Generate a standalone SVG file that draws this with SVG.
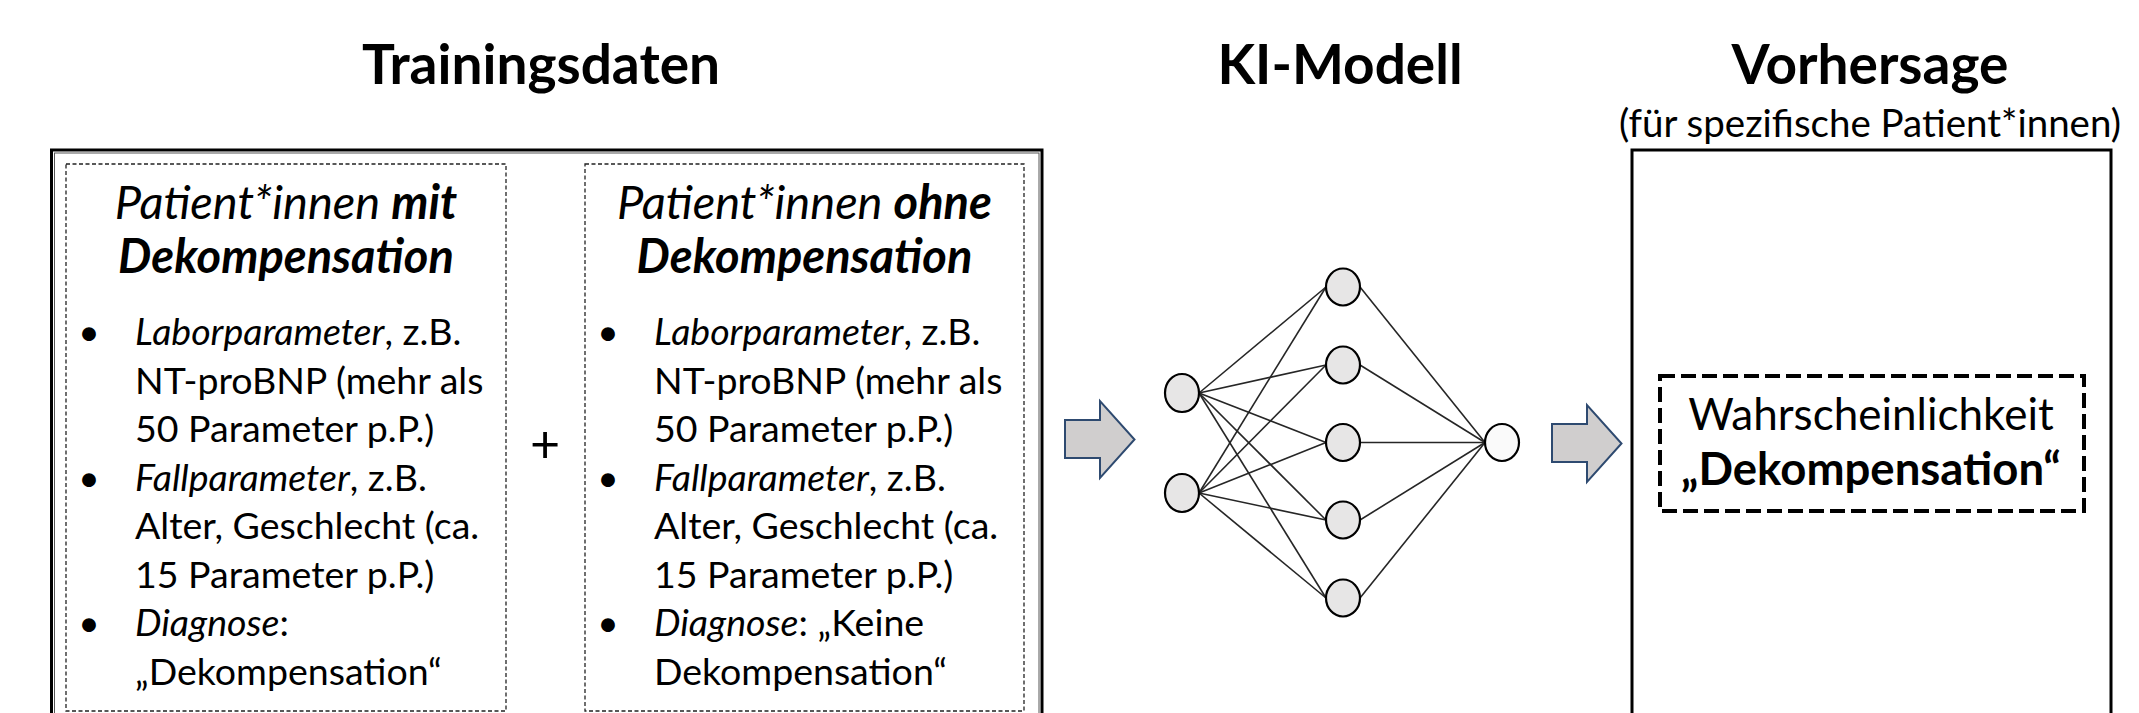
<svg xmlns="http://www.w3.org/2000/svg" width="2139" height="713" viewBox="0 0 2139 713">
  <style>
    text { font-family: Lato, Carlito, "Open Sans", sans-serif; fill: #000; }
    .title { font-size: 55px; font-weight: bold; text-anchor: middle; }
    .sub { font-size: 38.5px; text-anchor: middle; }
    .head { font-size: 47px; font-style: italic; text-anchor: middle; }
    .result { font-size: 44px; text-anchor: middle; }
    .body { font-size: 37.5px; }
    .bul { font-size: 37px; text-anchor: middle; }
    .it { font-style: italic; }
    .bd { font-weight: bold; }
    .dash { fill: none; stroke: #222; stroke-width: 1.3; stroke-dasharray: 4 2.5; }
    .frame { fill: none; stroke: #000; stroke-width: 3; }
    .arrow { fill: #D0CECE; stroke: #2E4A70; stroke-width: 2; stroke-linejoin: miter; }
    .neuron { fill: #E7E6E6; stroke: #000; stroke-width: 2.2; }
    .edge { stroke: #262626; stroke-width: 1.6; }
  </style>

  <!-- column headings -->
  <text class="title" x="541" y="84">Trainingsdaten</text>
  <text class="title" x="1340" y="84">KI-Modell</text>
  <text class="title" x="1870" y="84">Vorhersage</text>
  <text class="sub" x="1870" y="137">(für spezifische Patient*innen)</text>

  <!-- training data frame (double line) -->
  <g id="training-frame">
    <rect class="frame" x="51.5" y="150" width="990.5" height="600" stroke-width="2.5"/>
    <rect x="54.5" y="153" width="984.5" height="600" fill="none" stroke="#555" stroke-width="1"/>
  </g>

  <!-- patients with decompensation -->
  <g id="with-decomp">
    <rect class="dash" x="66" y="164" width="440" height="547"/>
    <text class="head" x="286" y="219">Patient*innen <tspan class="bd">mit</tspan></text>
    <text class="head bd" x="286" y="273">Dekompensation</text>
    <text class="bul" x="89" y="345">•</text>
    <text class="body" x="135" y="345"><tspan class="it">Laborparameter</tspan>, z.B.</text>
    <text class="body" x="135" y="394">NT-proBNP (mehr als</text>
    <text class="body" x="135" y="442">50 Parameter p.P.)</text>
    <text class="bul" x="89" y="491">•</text>
    <text class="body" x="135" y="491"><tspan class="it">Fallparameter</tspan>, z.B.</text>
    <text class="body" x="135" y="539">Alter, Geschlecht (ca.</text>
    <text class="body" x="135" y="588">15 Parameter p.P.)</text>
    <text class="bul" x="89" y="636">•</text>
    <text class="body" x="135" y="636"><tspan class="it">Diagnose</tspan>:</text>
    <text class="body" x="135" y="685">„Dekompensation“</text>
  </g>

  <text id="plus" class="bul" x="545" y="463" style="font-size:52px">+</text>

  <!-- patients without decompensation -->
  <g id="without-decomp">
    <rect class="dash" x="585" y="164" width="439" height="547"/>
    <text class="head" x="804.5" y="219">Patient*innen <tspan class="bd">ohne</tspan></text>
    <text class="head bd" x="804.5" y="273">Dekompensation</text>
    <text class="bul" x="608" y="345">•</text>
    <text class="body" x="654" y="345"><tspan class="it">Laborparameter</tspan>, z.B.</text>
    <text class="body" x="654" y="394">NT-proBNP (mehr als</text>
    <text class="body" x="654" y="442">50 Parameter p.P.)</text>
    <text class="bul" x="608" y="491">•</text>
    <text class="body" x="654" y="491"><tspan class="it">Fallparameter</tspan>, z.B.</text>
    <text class="body" x="654" y="539">Alter, Geschlecht (ca.</text>
    <text class="body" x="654" y="588">15 Parameter p.P.)</text>
    <text class="bul" x="608" y="636">•</text>
    <text class="body" x="654" y="636"><tspan class="it">Diagnose</tspan>: „Keine</text>
    <text class="body" x="654" y="685">Dekompensation“</text>
  </g>

  <!-- block arrows -->
  <g id="arrow-in">
    <polygon class="arrow" points="1065,420 1100,420 1100,401 1134.5,439.5 1100,478 1100,458 1065,458"/>
  </g>
  <g id="arrow-out">
    <polygon class="arrow" points="1552,424 1587,424 1587,405 1621.5,443.5 1587,482 1587,462 1552,462"/>
  </g>

  <!-- network connections -->
  <g id="connectors">
    <line class="edge" x1="1199" y1="393" x2="1326" y2="287"/>
    <line class="edge" x1="1199" y1="393" x2="1326" y2="365"/>
    <line class="edge" x1="1199" y1="393" x2="1326" y2="442.5"/>
    <line class="edge" x1="1199" y1="393" x2="1326" y2="520"/>
    <line class="edge" x1="1199" y1="393" x2="1326" y2="598"/>
    <line class="edge" x1="1199" y1="493" x2="1326" y2="287"/>
    <line class="edge" x1="1199" y1="493" x2="1326" y2="365"/>
    <line class="edge" x1="1199" y1="493" x2="1326" y2="442.5"/>
    <line class="edge" x1="1199" y1="493" x2="1326" y2="520"/>
    <line class="edge" x1="1199" y1="493" x2="1326" y2="598"/>
    <line class="edge" x1="1360" y1="287" x2="1485" y2="442.5"/>
    <line class="edge" x1="1360" y1="365" x2="1485" y2="442.5"/>
    <line class="edge" x1="1360" y1="442.5" x2="1485" y2="442.5"/>
    <line class="edge" x1="1360" y1="520" x2="1485" y2="442.5"/>
    <line class="edge" x1="1360" y1="598" x2="1485" y2="442.5"/>
  </g>

  <!-- neurons -->
  <g id="input-1"><ellipse class="neuron" cx="1182" cy="393" rx="17" ry="19"/></g>
  <g id="input-2"><ellipse class="neuron" cx="1182" cy="493" rx="17" ry="19"/></g>
  <g id="hidden-1"><ellipse class="neuron" cx="1343" cy="287" rx="17" ry="18.5"/></g>
  <g id="hidden-2"><ellipse class="neuron" cx="1343" cy="365" rx="17" ry="18.5"/></g>
  <g id="hidden-3"><ellipse class="neuron" cx="1343" cy="442.5" rx="17" ry="18.5"/></g>
  <g id="hidden-4"><ellipse class="neuron" cx="1343" cy="520" rx="17" ry="18.5"/></g>
  <g id="hidden-5"><ellipse class="neuron" cx="1343" cy="598" rx="17" ry="18.5"/></g>
  <g id="output"><ellipse class="neuron" cx="1502" cy="442.5" rx="17" ry="18.5" style="fill:#FAFAFA"/></g>

  <!-- prediction panel -->
  <g id="prediction">
    <rect class="frame" x="1632" y="150" width="479" height="600"/>
    <rect x="1660" y="376" width="424" height="135" fill="none" stroke="#000" stroke-width="4" stroke-dasharray="15 6"/>
    <text class="result" x="1871" y="430">Wahrscheinlichkeit</text>
    <text class="result bd" x="1871" y="485" style="font-size:45.5px">„Dekompensation“</text>
  </g>
</svg>
